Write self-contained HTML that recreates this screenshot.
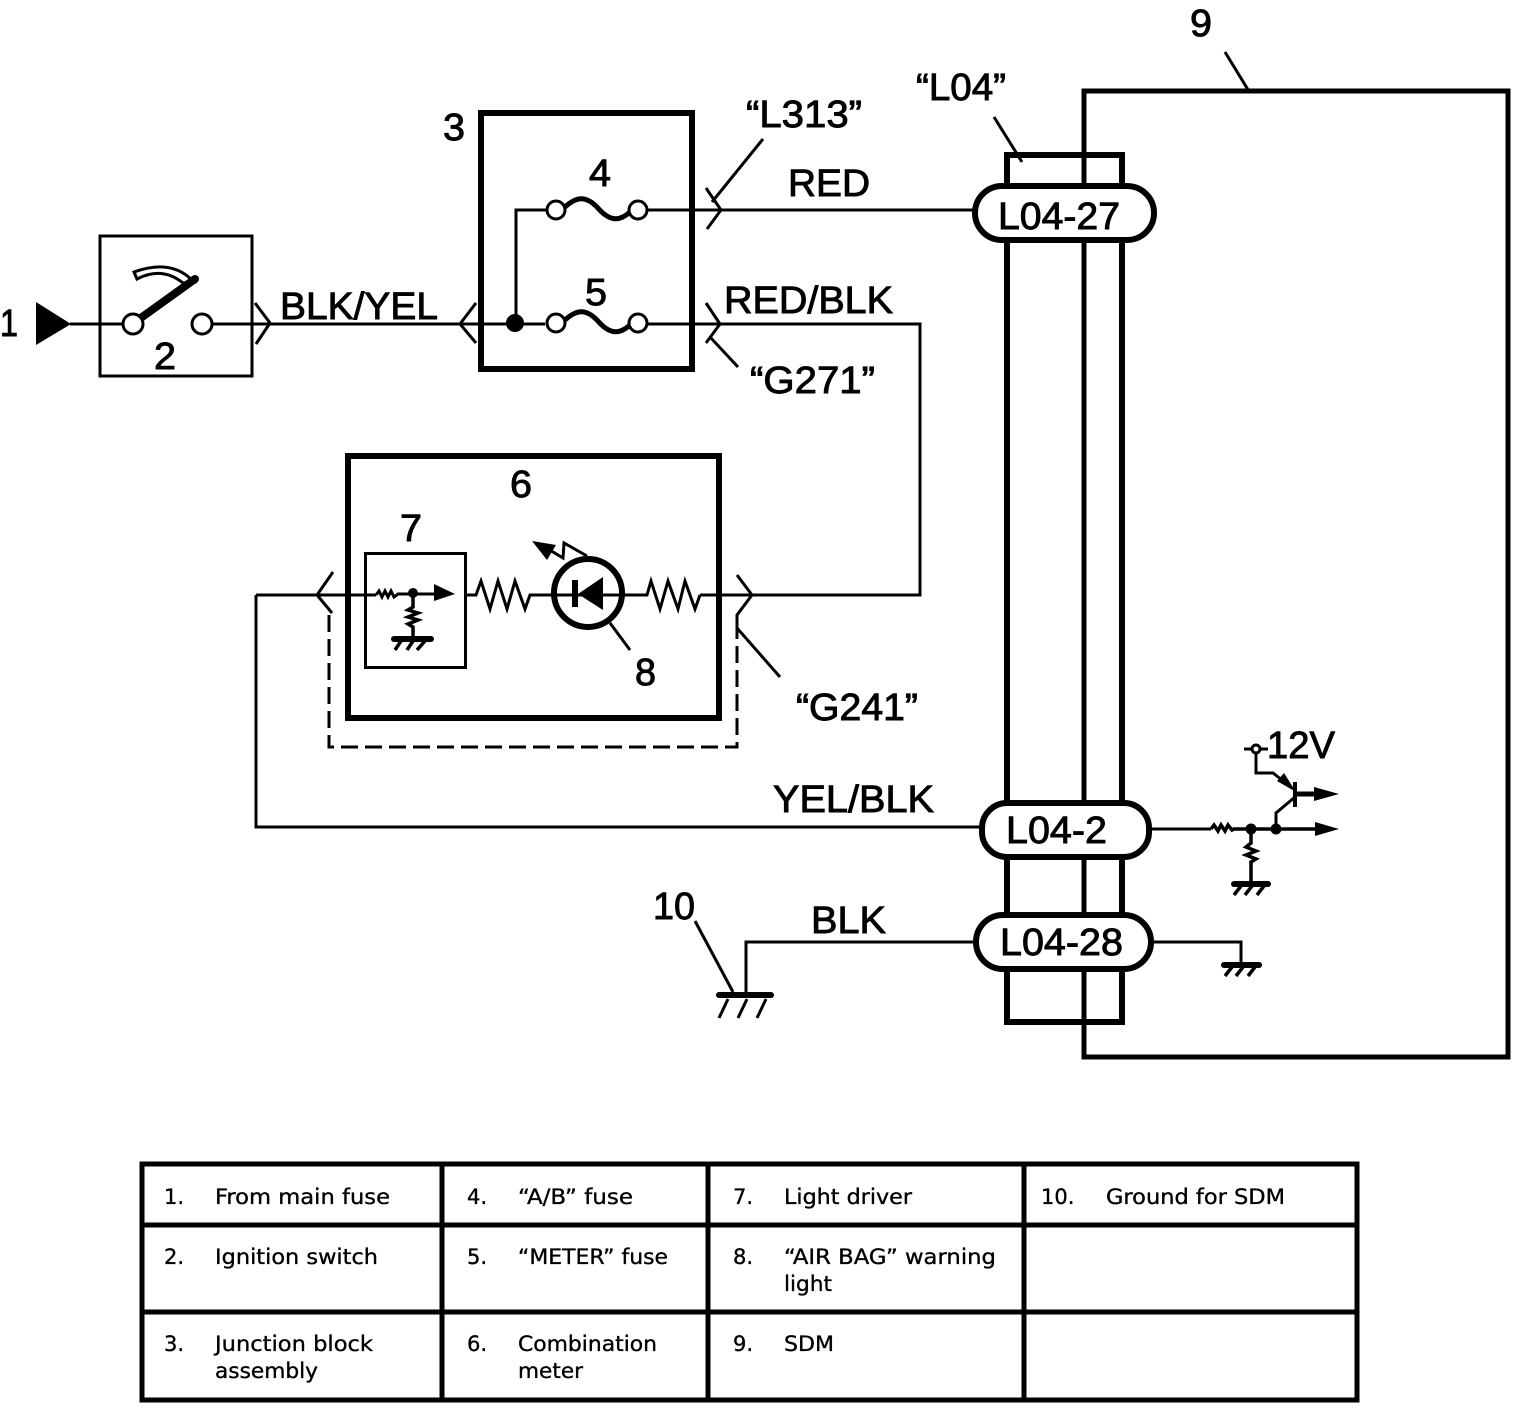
<!DOCTYPE html>
<html>
<head>
<meta charset="utf-8">
<style>
html,body{margin:0;padding:0;background:#fff}
svg{display:block}
.d{font-family:"Liberation Sans",sans-serif;font-size:38px;fill:#000;stroke:#000;stroke-width:.9px}
.t{font-family:"DejaVu Sans",sans-serif;font-size:21px;fill:#000;stroke:#000;stroke-width:.35px}
.l{fill:none;stroke:#000}
</style>
</head>
<body>
<svg xmlns="http://www.w3.org/2000/svg" width="1520" height="1422" viewBox="0 0 1520 1422">
<rect width="1520" height="1422" fill="#fff"/>

<!-- SDM box and L04 connector -->
<rect class="l" x="1084" y="91" width="424" height="966" stroke-width="5"/>
<line class="l" x1="1225" y1="52" x2="1250" y2="93" stroke-width="3"/>
<rect class="l" x="1007" y="155" width="115" height="867" stroke-width="6"/>
<line class="l" x1="994" y1="117" x2="1022" y2="162" stroke-width="3"/>

<!-- Switch box -->
<rect class="l" x="100" y="236" width="152" height="140" stroke-width="3"/>
<polygon points="36,302 71,324 36,345" fill="#000"/>
<line class="l" x1="70" y1="324" x2="122" y2="324" stroke-width="3"/>
<path class="l" d="M134,272 Q172,258 194,282 L183,283 Q162,266 137,279 Z" stroke-width="3"/>
<line class="l" x1="138" y1="320" x2="195" y2="279" stroke-width="8" stroke-linecap="round"/>
<circle class="l" cx="133" cy="324" r="10" stroke-width="3" style="fill:#fff"/>
<circle class="l" cx="202" cy="324" r="10" stroke-width="3"/>
<line class="l" x1="212" y1="324" x2="545" y2="324" stroke-width="3"/>
<polyline class="l" points="255,303 270,323 256,344" stroke-width="3"/>

<!-- Junction block -->
<rect class="l" x="481" y="113" width="211" height="256" stroke-width="6"/>
<polyline class="l" points="476,303 460,324 476,343" stroke-width="3"/>
<circle cx="515" cy="323" r="9" fill="#000"/>
<polyline class="l" points="516,323 516,210 546,210" stroke-width="3"/>
<circle class="l" cx="556" cy="210" r="9" stroke-width="3"/>
<circle class="l" cx="638" cy="210" r="9" stroke-width="3"/>
<path class="l" d="M565,207 C578,195 587,197 597,207 C608,220 618,223 630,212" stroke-width="5"/>
<circle class="l" cx="556" cy="323" r="9" stroke-width="3"/>
<circle class="l" cx="638" cy="323" r="9" stroke-width="3"/>
<path class="l" d="M565,320 C578,308 587,310 597,320 C608,333 618,336 630,325" stroke-width="5"/>
<line class="l" x1="647" y1="210" x2="975" y2="210" stroke-width="3"/>
<polyline class="l" points="647,324 920,324 920,595 700,595" stroke-width="3"/>
<polyline class="l" points="706,188 721,210 707,229" stroke-width="3"/>
<line class="l" x1="712" y1="202" x2="763" y2="139" stroke-width="3"/>
<polyline class="l" points="706,303 720,324 706,343" stroke-width="3"/>
<line class="l" x1="710" y1="337" x2="738" y2="367" stroke-width="3"/>

<!-- Combination meter -->
<rect class="l" x="348" y="456" width="371" height="262" stroke-width="6"/>
<rect class="l" x="365.500" y="553.500" width="100" height="114" stroke-width="3"/>
<polyline class="l" points="256,595 376,595" stroke-width="3"/>
<polyline class="l" points="256,595 256,827 980,827" stroke-width="3"/>
<polyline class="l" points="333,572 317,595 332,613" stroke-width="3"/>
<path class="l" d="M329,615 V747 H737 V622" stroke-width="3" stroke-dasharray="17 7"/>
<polyline class="l" points="737,575 752,595 737,615 737,628 780,677" stroke-width="3"/>
<!-- driver internals -->
<polyline class="l" points="376,595 379,591 382,597 385,591 388,597 391,591 394,597 398,594 434,594" stroke-width="3"/>
<circle cx="413" cy="593" r="5" fill="#000"/>
<polygon points="434,584 455,594 434,601" fill="#000"/>
<polyline class="l" points="413,593 413,607 408,610 418,613 408,617 418,620 408,624 413,627 413,640" stroke-width="3.500"/>
<line class="l" x1="394" y1="639" x2="431" y2="639" stroke-width="6" stroke-linecap="round"/>
<path class="l" d="M401,641 L395,650 M413,641 L407,650 M425,641 L417,650" stroke-width="3.500"/>
<!-- resistors -->
<polyline class="l" points="466,595 476,595 481,581 490,609 498,581 507,609 515,581 525,609 530,595 554,595" stroke-width="3"/>
<polyline class="l" points="624,595 647,595 651,581 660,609 668,581 678,609 685,581 695,609 700,595" stroke-width="3"/>
<!-- LED -->
<circle class="l" cx="588" cy="593" r="34" stroke-width="6"/>
<line class="l" x1="555" y1="595" x2="622" y2="595" stroke-width="3"/>
<rect x="572" y="580" width="6" height="27" fill="#000"/>
<polygon points="578,594 603,577 603,610" fill="#000"/>
<line class="l" x1="610" y1="623" x2="630" y2="650" stroke-width="3"/>
<polyline class="l" points="587,556 564,543 563,558 548,549" stroke-width="3"/>
<polygon points="532,541 556,545 547,560" fill="#000"/>

<!-- Pills -->
<rect x="975" y="186" width="179" height="54" rx="27" fill="#fff" stroke="#000" stroke-width="6"/>
<rect x="982" y="803" width="167" height="54" rx="25" fill="#fff" stroke="#000" stroke-width="6"/>
<rect x="976" y="915" width="175" height="54" rx="27" fill="#fff" stroke="#000" stroke-width="6"/>

<!-- Ground 10 -->
<polyline class="l" points="975,942 746,942 746,995" stroke-width="3"/>
<line class="l" x1="719" y1="995" x2="771" y2="995" stroke-width="6" stroke-linecap="round"/>
<path class="l" d="M728,999 L719,1018 M747,999 L738,1018 M766,999 L757,1018" stroke-width="3"/>
<line class="l" x1="695" y1="921" x2="733" y2="992" stroke-width="3"/>

<!-- Right-side circuits -->
<line class="l" x1="1150" y1="829" x2="1211" y2="829" stroke-width="3"/>
<polyline class="l" points="1211,829 1214,825 1218,831 1221,825 1225,831 1228,825 1232,830 1234,829 1320,829" stroke-width="3.500"/>
<circle cx="1251" cy="829" r="5.500" fill="#000"/>
<circle cx="1276" cy="829" r="5.500" fill="#000"/>
<polygon points="1315,822 1339,829 1315,836" fill="#000"/>
<polyline class="l" points="1251,829 1251,843 1246,847 1256,851 1246,855 1256,859 1251,862 1251,884" stroke-width="3.500"/>
<line class="l" x1="1234" y1="884" x2="1268" y2="884" stroke-width="6" stroke-linecap="round"/>
<path class="l" d="M1241,886 L1234,895 M1252,886 L1245,895 M1264,886 L1257,895" stroke-width="3.500"/>
<polyline class="l" points="1276,829 1276,813 1295,797" stroke-width="3"/>
<line class="l" x1="1295" y1="782" x2="1295" y2="807" stroke-width="4"/>
<polyline class="l" points="1244,749 1268,749" stroke-width="3"/>
<circle cx="1256" cy="749" r="4" fill="#fff" stroke="#000" stroke-width="3"/>
<polyline class="l" points="1256,753 1256,773 1273,773 1292,788" stroke-width="3"/>
<polygon points="1296,792 1277,781 1284,773" fill="#000"/>
<line class="l" x1="1295" y1="794" x2="1318" y2="794" stroke-width="5"/>
<polygon points="1314,787 1339,794 1314,801" fill="#000"/>
<polyline class="l" points="1154,942 1241,942 1241,965" stroke-width="3"/>
<line class="l" x1="1224" y1="965" x2="1259" y2="965" stroke-width="6" stroke-linecap="round"/>
<path class="l" d="M1232,967 L1225,976 M1243,967 L1236,976 M1255,967 L1248,976" stroke-width="3.500"/>

<!-- Diagram labels -->
<text class="d" x="0" y="336" textLength="18" lengthAdjust="spacingAndGlyphs">1</text>
<text class="d" x="154" y="369" textLength="22" lengthAdjust="spacingAndGlyphs">2</text>
<text class="d" x="443" y="140" textLength="22" lengthAdjust="spacingAndGlyphs">3</text>
<text class="d" x="589" y="186" textLength="22" lengthAdjust="spacingAndGlyphs">4</text>
<text class="d" x="585" y="305" textLength="22" lengthAdjust="spacingAndGlyphs">5</text>
<text class="d" x="510" y="497" textLength="22" lengthAdjust="spacingAndGlyphs">6</text>
<text class="d" x="400" y="541" textLength="22" lengthAdjust="spacingAndGlyphs">7</text>
<text class="d" x="635" y="685" textLength="21" lengthAdjust="spacingAndGlyphs">8</text>
<text class="d" x="1190" y="36" textLength="22" lengthAdjust="spacingAndGlyphs">9</text>
<text class="d" x="653" y="919" textLength="42" lengthAdjust="spacingAndGlyphs">10</text>
<text class="d" x="916" y="100" textLength="90" lengthAdjust="spacingAndGlyphs">“L04”</text>
<text class="d" x="746" y="127" textLength="116" lengthAdjust="spacingAndGlyphs">“L313”</text>
<text class="d" x="788" y="196" textLength="82" lengthAdjust="spacingAndGlyphs">RED</text>
<text class="d" x="280" y="319" textLength="158" lengthAdjust="spacingAndGlyphs">BLK/YEL</text>
<text class="d" x="724" y="313" textLength="169" lengthAdjust="spacingAndGlyphs">RED/BLK</text>
<text class="d" x="750" y="393" textLength="125" lengthAdjust="spacingAndGlyphs">“G271”</text>
<text class="d" x="796" y="720" textLength="122" lengthAdjust="spacingAndGlyphs">“G241”</text>
<text class="d" x="773" y="812" textLength="161" lengthAdjust="spacingAndGlyphs">YEL/BLK</text>
<text class="d" x="811" y="933" textLength="75" lengthAdjust="spacingAndGlyphs">BLK</text>
<text class="d" x="998" y="229" textLength="122" lengthAdjust="spacingAndGlyphs">L04-27</text>
<text class="d" x="1006" y="843" textLength="101" lengthAdjust="spacingAndGlyphs">L04-2</text>
<text class="d" x="1000" y="955" textLength="123" lengthAdjust="spacingAndGlyphs">L04-28</text>
<text class="d" x="1267" y="758" textLength="68" lengthAdjust="spacingAndGlyphs">12V</text>

<!-- Table -->
<rect class="l" x="142" y="1164" width="1215" height="236" stroke-width="5"/>
<path class="l" d="M442,1164 V1400 M708,1164 V1400 M1024,1164 V1400 M142,1225 H1357 M142,1312 H1357" stroke-width="5"/>

<text class="t" x="164" y="1204">1.</text>
<text class="t" x="215" y="1204" textLength="175" lengthAdjust="spacingAndGlyphs">From main fuse</text>
<text class="t" x="164" y="1264">2.</text>
<text class="t" x="215" y="1264" textLength="163" lengthAdjust="spacingAndGlyphs">Ignition switch</text>
<text class="t" x="164" y="1351">3.</text>
<text class="t" x="215" y="1351" textLength="158" lengthAdjust="spacingAndGlyphs">Junction block</text>
<text class="t" x="215" y="1378" textLength="103" lengthAdjust="spacingAndGlyphs">assembly</text>

<text class="t" x="467" y="1204">4.</text>
<text class="t" x="518" y="1204" textLength="115" lengthAdjust="spacingAndGlyphs">“A/B” fuse</text>
<text class="t" x="467" y="1264">5.</text>
<text class="t" x="518" y="1264" textLength="150" lengthAdjust="spacingAndGlyphs">“METER” fuse</text>
<text class="t" x="467" y="1351">6.</text>
<text class="t" x="518" y="1351" textLength="139" lengthAdjust="spacingAndGlyphs">Combination</text>
<text class="t" x="518" y="1378" textLength="65" lengthAdjust="spacingAndGlyphs">meter</text>

<text class="t" x="733" y="1204">7.</text>
<text class="t" x="784" y="1204" textLength="128" lengthAdjust="spacingAndGlyphs">Light driver</text>
<text class="t" x="733" y="1264">8.</text>
<text class="t" x="784" y="1264" textLength="212" lengthAdjust="spacingAndGlyphs">“AIR BAG” warning</text>
<text class="t" x="784" y="1291" textLength="48" lengthAdjust="spacingAndGlyphs">light</text>
<text class="t" x="733" y="1351">9.</text>
<text class="t" x="784" y="1351" textLength="50" lengthAdjust="spacingAndGlyphs">SDM</text>

<text class="t" x="1041" y="1204">10.</text>
<text class="t" x="1106" y="1204" textLength="179" lengthAdjust="spacingAndGlyphs">Ground for SDM</text>
</svg>
</body>
</html>
